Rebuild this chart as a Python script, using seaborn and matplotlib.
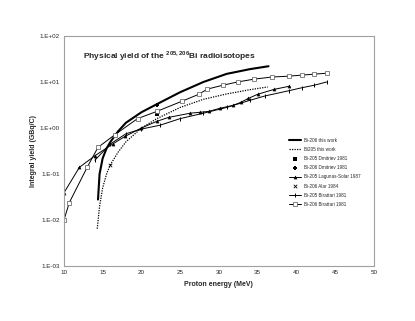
import numpy as np
import matplotlib
matplotlib.use('Agg')
import matplotlib.pyplot as plt
from matplotlib.ticker import FuncFormatter, FixedLocator
import seaborn as sns

# Bi-206 this work (thick line)
e_206_tw = [14.4, 14.6, 15.0, 15.5, 16.0, 17.0, 18.0, 20.0, 22.0, 25.0, 28.0, 31.0, 34.0, 36.4]
y_206_tw = [0.028, 0.10, 0.22, 0.36, 0.50, 0.85, 1.3, 2.2, 3.3, 6.0, 10.0, 15.0, 19.0, 22.0]
# Bi205 this work (dotted)
e_205_tw = [14.3, 14.6, 15.0, 15.5, 16.0, 17.0, 18.0, 20.0, 22.0, 25.0, 28.0, 31.0, 34.0, 36.3]
y_205_tw = [0.0065, 0.02, 0.05, 0.10, 0.16, 0.30, 0.50, 1.0, 1.6, 2.8, 4.2, 5.5, 6.8, 7.8]
# Dmitriev 1981
e_205_dm = [22.0]
y_205_dm = [2.0]
e_206_dm = [22.0]
y_206_dm = [3.2]
# Lagunas-Solar 1987
e_205_ls = [10.0, 12.0, 14.0, 16.3, 17.9, 20.0, 22.0, 23.5, 26.3, 27.6, 28.7, 30.2, 31.8, 32.8, 33.8, 35.0, 37.1, 39.1]
y_205_ls = [0.039, 0.14, 0.25, 0.45, 0.66, 1.0, 1.4, 1.7, 2.1, 2.2, 2.3, 2.7, 3.1, 3.6, 4.4, 5.4, 6.9, 8.1]
# Alar 1984
e_206_al = [16.0]
y_206_al = [0.16]
# Birattari 1981
e_205_bi = [14.0, 16.0, 18.0, 20.0, 22.4, 25.0, 28.0, 31.0, 34.0, 36.0, 39.1, 40.7, 42.3, 43.9]
y_205_bi = [0.20, 0.45, 0.75, 0.95, 1.15, 1.6, 2.1, 2.8, 4.0, 5.0, 6.5, 7.5, 8.5, 10.0]
e_206_bi = [10.0, 10.7, 13.0, 14.4, 16.6, 19.5, 22.0, 25.2, 27.4, 28.5, 30.5, 32.4, 34.5, 36.8, 39.1, 40.7, 42.3, 43.9]
y_206_bi = [0.010, 0.024, 0.14, 0.38, 0.72, 1.6, 2.3, 3.8, 5.4, 7.0, 8.5, 10.0, 11.5, 12.8, 13.4, 14.1, 14.8, 15.5]

x_ticks = [10, 15, 20, 25, 30, 35, 40, 45, 50]
y_ticks = [1e-3, 1e-2, 1e-1, 1e0, 1e1, 1e2]

sns.set_style('white')
plt.rcParams['font.family'] = ['Liberation Sans', 'DejaVu Sans']

fig = plt.figure(figsize=(4.15, 3.21), dpi=100)
ax = fig.add_axes([0.154, 0.171, 0.747, 0.717])

sns.lineplot(x=e_206_tw, y=y_206_tw, ax=ax, color='black', linewidth=1.5, sort=False, label='Bi-206 this work')
sns.lineplot(x=e_205_tw, y=y_205_tw, ax=ax, color='black', linewidth=0.9, linestyle=(0, (1, 1)), sort=False, label='Bi205 this work')
sns.scatterplot(x=e_205_dm, y=y_205_dm, ax=ax, color='black', marker='s', s=6, linewidth=0, label='Bi-205 Dmitriev 1981')
sns.scatterplot(x=e_206_dm, y=y_206_dm, ax=ax, color='black', marker='P', s=8, linewidth=0, label='Bi-206 Dmitriev 1981')
sns.lineplot(x=e_205_ls, y=y_205_ls, ax=ax, color='black', linewidth=0.7, marker='^', markersize=2.3,
             markeredgecolor='black', markeredgewidth=0.3, sort=False, label='Bi-205 Lagunas-Solar 1987')
sns.scatterplot(x=e_206_al, y=y_206_al, ax=ax, color='black', marker='x', s=6, linewidth=0.6, label='Bi-206 Alar 1984')
sns.lineplot(x=e_205_bi, y=y_205_bi, ax=ax, color='black', linewidth=0.7, marker='|', markersize=3,
             markeredgecolor='black', markeredgewidth=0.7, sort=False, label='Bi-205 Birattari 1981')
sns.lineplot(x=e_206_bi, y=y_206_bi, ax=ax, color='black', linewidth=0.7, marker='s', markersize=2.5,
             markerfacecolor='white', markeredgecolor='#555555', markeredgewidth=0.5, sort=False,
             label='Bi-206 Birattari 1981')

ax.set_yscale('log')
ax.set_xlim(10, 50)
ax.set_ylim(1e-3, 1e2)
ax.xaxis.set_major_locator(FixedLocator(x_ticks))
ax.yaxis.set_major_locator(FixedLocator(y_ticks))
ax.yaxis.set_minor_locator(FixedLocator([]))
ax.yaxis.set_major_formatter(FuncFormatter(lambda v, p: '1.E%+03d' % int(round(np.log10(v)))))
ax.tick_params(axis='both', labelsize=4.5, length=0, pad=3)

for side in ['left', 'right', 'top', 'bottom']:
    ax.spines[side].set_color('#a0a0a0')
    ax.spines[side].set_linewidth(0.8)

ax.set_xlabel('Proton energy (MeV)', fontsize=5, fontweight='bold', labelpad=4)
ax.set_ylabel('Integral yield (GBq/C)', fontsize=5, fontweight='bold', labelpad=2)
ax.text(0.06, 0.945, r'Physical yield of the $^{\mathregular{205,206}}$Bi radioisotopes',
        transform=ax.transAxes, fontsize=6.0, fontweight='bold', va='top')

leg = ax.legend(loc='upper left', bbox_to_anchor=(0.72, 0.565), frameon=False, fontsize=3.3,
                handlelength=2.6, handletextpad=0.6, labelspacing=0.9, borderaxespad=0)

fig.savefig('out.png', dpi=100)
